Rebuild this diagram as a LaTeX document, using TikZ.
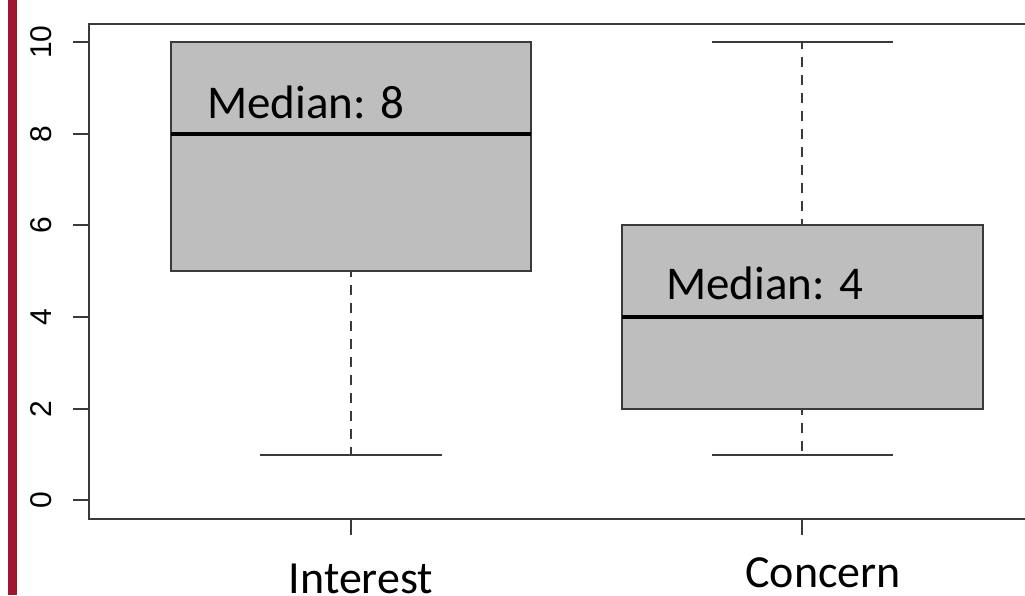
\documentclass[tikz,border=0pt]{standalone}
\usepackage{fontspec}
\setmainfont{Carlito}
\newfontfamily\axisfont{Liberation Sans}
\definecolor{barred}{HTML}{A01530}
\definecolor{boxgray}{HTML}{BEBEBE}
\definecolor{linegray}{HTML}{3A3A3A}
\tikzset{
  frameline/.style={draw=linegray, line width=2pt},
  boxshape/.style={draw=linegray, fill=boxgray, line width=1.6pt},
  medianline/.style={draw=black, line width=4.5pt},
  whisker/.style={draw=linegray, line width=1.8pt, dash pattern=on 10pt off 8pt, dash phase=4pt},
  capline/.style={draw=linegray, line width=1.8pt},
  tickline/.style={draw=linegray, line width=1.8pt},
  ylab/.style={font=\axisfont\fontsize{30}{32}\selectfont, rotate=90, inner sep=0pt},
  medlab/.style={font=\fontsize{47}{50}\selectfont, anchor=base west, inner sep=0pt},
  xlab/.style={font=\fontsize{46}{50}\selectfont, anchor=base, inner sep=0pt, text depth=0pt}
}
\begin{document}
\begin{tikzpicture}[x=1pt,y=-1pt]
\useasboundingbox (0,0) rectangle (1025,595);
\fill[white] (0,0) rectangle (1025,595);
% red bar
\fill[barred] (8,0) rectangle (16.5,595);
% frame
\draw[frameline] (1025,24) -- (89,24) -- (89,519) -- (1025,519);
% y ticks and labels
\foreach \v/\py in {0/500,2/409,4/317,6/225,8/134,10/42}{
  \draw[tickline] (73,\py) -- (89,\py);
  \node[ylab] (y\v) at (41,\py) {\v};
}
% x ticks
\coordinate (ti1) at (351,519);
\coordinate (ti2) at (802,519);
\coordinate (tb1) at (351,535);
\coordinate (tb2) at (802,535);
\draw[tickline] (ti1) -- (tb1);
\draw[tickline] (ti2) -- (tb2);
% Interest box
\coordinate (iwlow) at (351,455);
\coordinate (iboxb) at (351,271);
\draw[whisker] (iboxb) -- (iwlow);
\draw[capline] (260,455) -- (442,455);
\draw[boxshape] (171,42) rectangle (531,271);
\draw[capline] (260,42) -- (442,42);
\draw[medianline] (171,134) -- (531,134);
% Concern box
\coordinate (cwhigh) at (802,42);
\coordinate (cboxt) at (802,225);
\coordinate (cboxb) at (802,409);
\coordinate (cwlow) at (802,455);
\draw[whisker] (cboxt) -- (cwhigh);
\draw[whisker] (cboxb) -- (cwlow);
\draw[capline] (712,42) -- (893,42);
\draw[capline] (712,455) -- (893,455);
\draw[boxshape] (622,225) rectangle (983,409);
\draw[medianline] (622,317) -- (983,317);
% labels
\node[medlab] (m1) at (207,118) {Median: 8};
\node[medlab] (m2) at (666,299) {Median: 4};
\node[xlab] (xl1) at (361,593) {Interest};
\node[xlab] (xl2) at (823,587) {Concern};
\end{tikzpicture}
\end{document}
